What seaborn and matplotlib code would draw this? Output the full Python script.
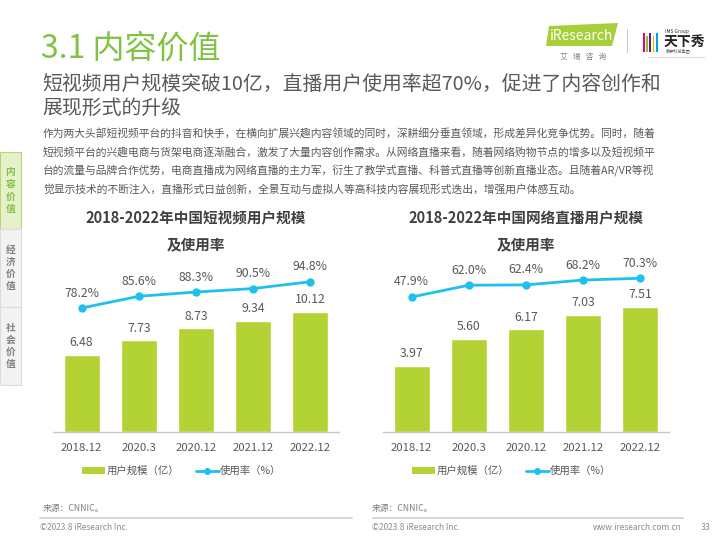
import matplotlib
matplotlib.use("Agg")
import matplotlib.pyplot as plt
from matplotlib.patches import Rectangle, Polygon, Patch
from matplotlib.lines import Line2D
import pandas as pd
import seaborn as sns

# data
periods = ["2018.12", "2020.3", "2020.12", "2021.12", "2022.12"]
video_users = [6.48, 7.73, 8.73, 9.34, 10.12]
video_rate = [78.2, 85.6, 88.3, 90.5, 94.8]
live_users = [3.97, 5.60, 6.17, 7.03, 7.51]
live_rate = [47.9, 62.0, 62.4, 68.2, 70.3]

title_video = "2018-2022年中国短视频用户规模\n及使用率"
title_live = "2018-2022年中国网络直播用户规模\n及使用率"
legend_labels = ["用户规模（亿）", "使用率（%）"]

paragraph = [
    "作为两大头部短视频平台的抖音和快手，在横向扩展兴趣内容领域的同时，深耕细分垂直领域，形成差异化竞争优势。同时，随着",
    "短视频平台的兴趣电商与货架电商逐渐融合，激发了大量内容创作需求。从网络直播来看，随着网络购物节点的增多以及短视频平",
    "台的流量与品牌合作优势，电商直播成为网络直播的主力军，衍生了教学式直播、科普式直播等创新直播业态。且随着AR/VR等视",
    "觉显示技术的不断注入，直播形式日益创新，全景互动与虚拟人等高科技内容展现形式迭出，增强用户体感互动。",
]

GREEN = "#b3d234"
CYAN = "#1ec1ee"
TXT = "#595959"
HEAD = "#80c342"

sns.set_theme(style="white")
plt.rcParams["font.family"] = ["Noto Sans CJK SC", "DejaVu Sans"]

fig = plt.figure(figsize=(7.2, 5.4), dpi=100)

# background layer in pixel coords (y down)
bg = fig.add_axes([0, 0, 1, 1])
bg.set_xlim(0, 720); bg.set_ylim(540, 0); bg.axis("off")

bg.text(41, 49, "3.1 内容价值", fontsize=23, color=HEAD, va="center", ha="left")
bg.text(42, 85, "短视频用户规模突破10亿，直播用户使用率超70%，促进了内容创作和", fontsize=14.3, color=TXT, va="center")
bg.text(42, 108, "展现形式的升级", fontsize=14.3, color=TXT, va="center")
for i, line in enumerate(paragraph):
    bg.text(43, 133 + i * 18.8, line, fontsize=7.75, color=TXT, va="center")

# side tabs
tabs = [("内容价值", 152, 229, "#e6f1cc", "#b9d86f", HEAD),
        ("经济价值", 229, 307, "#f2f2f2", "#dcdcdc", "#808080"),
        ("社会价值", 307, 385, "#f2f2f2", "#dcdcdc", "#808080")]
for label, y0, y1, fc, ec, tc in tabs:
    bg.add_patch(Rectangle((0, y0), 20.5, y1 - y0, facecolor=fc, edgecolor=ec, lw=0.8))
    bg.text(10.5, (y0 + y1) / 2, "\n".join(label), fontsize=7, fontweight="bold",
            color=tc, ha="center", va="center", linespacing=1.25)

# logos
bg.add_patch(Polygon([(549, 26), (618, 23), (612, 46), (546, 46)], closed=True, facecolor="#a6cf38", edgecolor="none"))
bg.text(550, 36, "iResearch", fontsize=10, color="white", va="center", ha="left")
bg.text(583, 57, "艾   瑞   咨   询", fontsize=5.5, color="#808080", ha="center", va="center")
bg.plot([627, 627], [29, 52], color="#c8c8c8", lw=0.8)
for k, c in enumerate(["#e4007f", "#8fc31f", "#601986", "#f5a200", "#00a0e9"]):
    bg.add_patch(Rectangle((643 + k * 3.2, 33 + (k % 2) * 3), 1.8, 19 - (k % 2) * 3, facecolor=c, edgecolor="none"))
bg.text(665, 31, "IMS Group", fontsize=3.5, color="#333333", va="center")
bg.text(664, 42, "天下秀", fontsize=10, fontweight="bold", color="#222222", va="center")
bg.text(666, 51, "数字科技集团", fontsize=3, color="#555555", va="center")
bg.plot([648, 705], [57, 57], color="#bbbbbb", lw=0.4)


def chart(x_px, users, rate, ylim1, ylim2, title, title_x):
    df = pd.DataFrame({"period": periods, "users": users, "rate": rate})
    ax = fig.add_axes([x_px / 720, 108 / 540, 286 / 720, 172 / 540])
    sns.barplot(data=df, x="period", y="users", color=GREEN, saturation=1, width=0.63, ax=ax)
    ax.set_ylim(*ylim1)
    for i, v in enumerate(users):
        ax.annotate(f"{v:.2f}", (i, v), xytext=(0, 8.8), textcoords="offset points",
                    ha="center", va="center", fontsize=8.8, color=TXT)
    ax2 = ax.twinx()
    sns.pointplot(data=df, x="period", y="rate", color=CYAN, errorbar=None,
                  markersize=4.5, linewidth=2, ax=ax2)
    ax2.set_ylim(*ylim2)
    for i, v in enumerate(rate):
        ax2.annotate(f"{v:.1f}%", (i, v), xytext=(0, 10.8), textcoords="offset points",
                     ha="center", va="center", fontsize=8.8, color=TXT)
    for a in (ax, ax2):
        a.set_yticks([]); a.set_xlabel(""); a.set_ylabel("")
        for s in ("top", "left", "right"):
            a.spines[s].set_visible(False)
    ax2.spines["bottom"].set_visible(False)
    ax.spines["bottom"].set_color("#c8c8c8")
    ax.spines["bottom"].set_linewidth(1)
    ax.tick_params(axis="x", length=0, pad=8, labelsize=8.2, labelcolor=TXT)
    ax2.tick_params(axis="x", length=0, labelbottom=False)
    ax.set_xlim(-0.5, len(periods) - 0.5)

    handles = [Patch(facecolor=GREEN, edgecolor="none"),
               Line2D([0], [0], color=CYAN, lw=2, marker="o", markersize=4)]
    ax.legend(handles, legend_labels, loc="center", bbox_to_anchor=(0.45, -0.227), ncol=2,
              frameon=False, fontsize=7.5, handlelength=2.2, handleheight=0.7,
              handletextpad=0.1, columnspacing=1.6, labelcolor=TXT)
    bg.text(title_x, 231, title, fontsize=10.5, fontweight="bold", color="#404040",
            ha="center", va="center", linespacing=1.75)


chart(53, video_users, video_rate, (0, 14.49), (0, 108.5), title_video, 196)
chart(383, live_users, live_rate, (0, 10.35), (-113.8, 92.2), title_live, 526)

# footer
bg.text(43, 509, "来源：CNNIC。", fontsize=6.3, color="#808080", va="center")
bg.text(372, 509, "来源：CNNIC。", fontsize=6.3, color="#808080", va="center")
bg.plot([40, 352], [518, 518], color="#d9d9d9", lw=1.5)
bg.plot([373, 683], [518, 518], color="#d9d9d9", lw=1.5)
bg.text(40, 527, "©2023.8 iResearch Inc.", fontsize=6, color="#8c8c8c", va="center")
bg.text(372, 527, "©2023.8 iResearch Inc.", fontsize=6, color="#8c8c8c", va="center")
bg.text(682, 527, "www.iresearch.com.cn", fontsize=6, color="#8c8c8c", va="center", ha="right")
bg.text(706, 527, "33", fontsize=6.3, color="#8c8c8c", va="center", ha="center")

fig.savefig("out.png", dpi=100)
